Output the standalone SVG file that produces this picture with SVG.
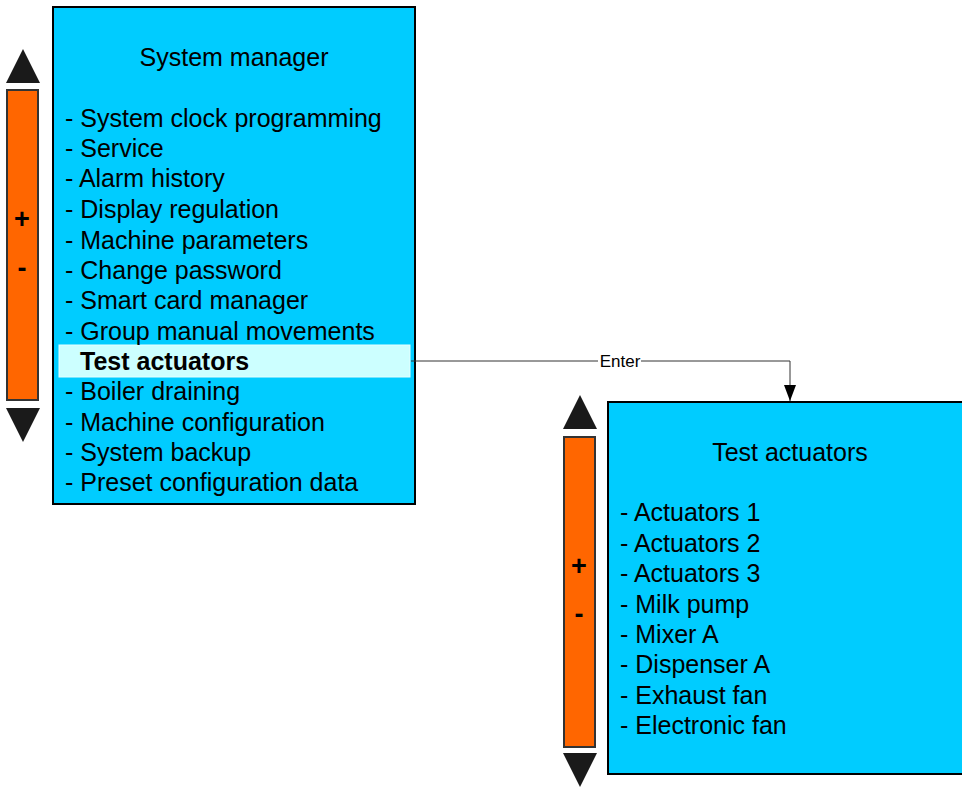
<svg xmlns="http://www.w3.org/2000/svg" width="962" height="787" viewBox="0 0 962 787">
<style>
.box{fill:#00ccff;stroke:#000;stroke-width:2}
.bar{fill:#ff6600;stroke:#333;stroke-width:2}
.tri{fill:#1a1a1a}
text{font-family:"Liberation Sans",Arial,sans-serif;font-size:25px;fill:#000}
.pm{font-weight:bold;font-size:27px;text-anchor:middle}
.title{text-anchor:middle}
.lbl{font-size:17px;text-anchor:middle}
.conn{fill:none;stroke:#333;stroke-width:1}
</style>
<defs>
<marker id="arr" markerWidth="16" markerHeight="12" refX="16" refY="6" orient="auto" markerUnits="userSpaceOnUse" viewBox="0 0 16 12">
<path d="M0,0 L16,6 L0,12 Z" fill="#000"/>
</marker>
</defs>
<g id="scroll-left">
<path class="tri" d="M6,83 L40,83 L23,49 Z"/>
<rect class="bar" x="7" y="90" width="31" height="310"/>
<path class="tri" d="M6,408 L40,408 L23,442 Z"/>
<text class="pm" x="22" y="228">+</text>
<text class="pm" x="22" y="277">-</text>
</g>
<g id="system-manager">
<rect class="box" x="53" y="7" width="362" height="497"/>
<rect x="59" y="345" width="351" height="32" fill="#ccffff" stroke="#e6ffff" stroke-width="1"/>
<text class="title" x="234" y="66">System manager</text>
<text x="65" y="127">- System clock programming</text>
<text x="65" y="157">- Service</text>
<text x="65" y="187">- Alarm history</text>
<text x="65" y="218">- Display regulation</text>
<text x="65" y="249">- Machine parameters</text>
<text x="65" y="279">- Change password</text>
<text x="65" y="309">- Smart card manager</text>
<text x="65" y="340">- Group manual movements</text>
<text x="80" y="370" font-weight="bold">Test actuators</text>
<text x="65" y="400">- Boiler draining</text>
<text x="65" y="431">- Machine configuration</text>
<text x="65" y="461">- System backup</text>
<text x="65" y="491">- Preset configuration data</text>
</g>
<g id="scroll-right">
<path class="tri" d="M563,429 L597,429 L580,395 Z"/>
<rect class="bar" x="564" y="437" width="31" height="310"/>
<path class="tri" d="M563,753 L597,753 L580,787 Z"/>
<text class="pm" x="579" y="575">+</text>
<text class="pm" x="579" y="623">-</text>
</g>
<g id="test-actuators">
<rect class="box" x="608" y="402" width="360" height="372"/>
<text class="title" x="790" y="461">Test actuators</text>
<text x="620" y="521">- Actuators 1</text>
<text x="620" y="552">- Actuators 2</text>
<text x="620" y="582">- Actuators 3</text>
<text x="620" y="613">- Milk pump</text>
<text x="620" y="643">- Mixer A</text>
<text x="620" y="673">- Dispenser A</text>
<text x="620" y="704">- Exhaust fan</text>
<text x="620" y="734">- Electronic fan</text>
</g>
<g id="connectors">
<path class="conn" d="M411,361 L790,361 L790,401" marker-end="url(#arr)"/>
<rect x="598" y="352" width="43" height="18" fill="#fff"/>
<text class="lbl" x="620" y="367">Enter</text>
</g>
</svg>
